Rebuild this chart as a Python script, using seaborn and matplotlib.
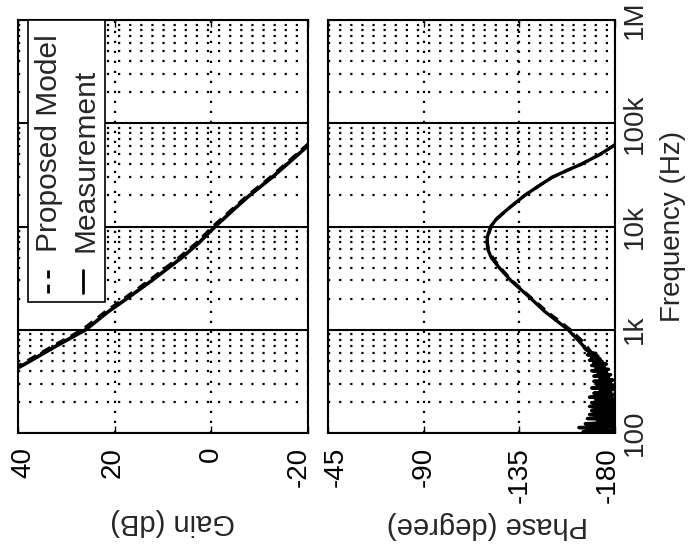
import matplotlib
matplotlib.use("Agg")
import matplotlib.pyplot as plt
from matplotlib.ticker import LogLocator, NullFormatter
from matplotlib.patches import Rectangle
from matplotlib.lines import Line2D
from matplotlib.transforms import ScaledTranslation
import seaborn as sns

# ---- Bode data (frequency in Hz) ----
gain_freq = [300, 400, 500, 700, 1000, 1500, 2000, 3000, 5000, 7000,
             10000, 15000, 20000, 30000, 50000, 70000, 100000]
gain_measured = [45.8, 41.1, 37.4, 32.0, 26.0, 21.3, 17.5, 12.3, 6.1, 2.5,
                 -0.8, -4.9, -7.9, -12.6, -18.0, -21.5, -25.0]
gain_model = [46.4, 41.8, 38.1, 32.7, 26.7, 21.9, 18.1, 12.9, 6.7, 3.0,
              -0.3, -4.5, -7.5, -12.2, -17.6, -21.1, -24.6]

phase_freq = [100, 103, 106, 109, 113, 116, 119, 123, 127, 130, 134, 138, 143,
              147, 151, 156, 160, 165, 170, 175, 181, 186, 192, 197, 203, 209,
              216, 222, 229, 236, 243, 250, 258, 265, 273, 281, 290, 299, 307,
              317, 326, 336, 346, 356, 367, 378, 389, 401, 413, 426, 438, 451,
              465, 479, 493, 508, 523, 539, 555, 572, 589, 607,
              650, 700, 800, 900, 1000, 1500, 2000, 3000, 4000, 5000, 6000,
              7000, 8000, 10000, 12000, 15000, 20000, 25000, 30000, 35000,
              40000, 50000, 60000, 70000, 100000]
phase_measured = [-178, -165, -180, -171, -163, -180, -176, -166, -180, -172,
                  -180, -167, -178, -180, -168, -175, -180, -169, -180, -173,
                  -168, -180, -176, -169, -180, -171, -179, -168, -177, -180,
                  -170, -178, -173, -180, -169, -176, -180, -171, -178, -170,
                  -179, -173, -177, -170, -178, -172, -176, -169, -177, -171,
                  -175, -169, -176, -170, -174, -168, -173, -169, -172, -167,
                  -171, -168,
                  -166, -165, -162.5, -160, -158, -147, -140.5, -131, -125.5,
                  -121.8, -120.2, -119.8, -120, -121.5, -124.5, -130, -137.5,
                  -144.5, -150.5, -157.5, -164, -173, -179, -183.5, -195]

model_freq = [100, 150, 200, 300, 400, 500, 600, 700, 800, 1000, 1500, 2000,
              3000, 4000, 5000, 6000, 7000, 8000, 10000, 12000, 15000, 20000,
              25000, 30000, 35000, 40000, 50000, 60000, 70000, 100000]
phase_model = [-179, -178.5, -178, -176.5, -174, -171.5, -169, -166.5, -164,
               -159, -148, -141, -131.5, -126, -122.5, -120.5, -120, -120.2,
               -121.8, -124.8, -130, -137.5, -144.5, -150.5, -157.5, -164,
               -173, -179, -183.5, -195]

gain_ticks = [40, 20, 0, -20]
gain_tick_labels = ["40", "20", "0", "-20"]
phase_ticks = [-45, -90, -135, -180]
phase_tick_labels = ["-45", "-90", "-135", "-180"]
freq_ticks = [1e2, 1e3, 1e4, 1e5, 1e6]
freq_tick_labels = ["100", "1k", "10k", "100k", "1M"]
legend_labels = ["Proposed Model", "Measurement"]

sns.set_style("white")
plt.rcParams["font.family"] = ["Liberation Sans", "DejaVu Sans"]
plt.rcParams["axes.unicode_minus"] = False

W, H = 690, 545
fig = plt.figure(figsize=(W / 100, H / 100), dpi=100)
ax_g = fig.add_axes([18 / W, 1 - 433 / H, 290 / W, 413 / H])
ax_p = fig.add_axes([328 / W, 1 - 433 / H, 287 / W, 413 / H])

MODEL_DASH = (0, (3.2, 2.2))

# Gain panel: frequency runs up the page, gain decreases to the right
sns.lineplot(x=gain_measured, y=gain_freq, orient="y", sort=False,
             estimator=None, color="black", lw=2.6, legend=False, ax=ax_g)
sns.lineplot(x=gain_model, y=gain_freq, orient="y", sort=False,
             estimator=None, color="black", lw=2.2, legend=False, ax=ax_g)
ax_g.lines[-1].set_linestyle(MODEL_DASH)

# Phase panel
sns.lineplot(x=phase_measured, y=phase_freq, orient="y", sort=False,
             estimator=None, color="black", lw=2.4, legend=False, ax=ax_p)
sns.lineplot(x=phase_model, y=model_freq, orient="y", sort=False,
             estimator=None, color="black", lw=2.2, legend=False, ax=ax_p)
ax_p.lines[-1].set_linestyle(MODEL_DASH)

ax_g.set_xlim(40, -20)
ax_p.set_xlim(-45, -180)

for ax in (ax_g, ax_p):
    ax.set_yscale("log")
    ax.set_ylim(1e2, 1e6)
    ax.yaxis.set_minor_locator(LogLocator(base=10, subs=[2, 3, 4, 5, 6, 7, 8, 9]))
    ax.yaxis.set_minor_formatter(NullFormatter())
    ax.set_yticks(freq_ticks)
    ax.grid(False)
    ax.grid(True, which="major", axis="y", color="black", linestyle="-", linewidth=1.5)
    ax.grid(True, which="minor", axis="y", color="black", linestyle=(0, (1, 4)), linewidth=1.6)
    ax.grid(True, which="major", axis="x", color="black", linestyle=(0, (1, 3.5)), linewidth=1.6)
    ax.set_axisbelow(True)
    ax.tick_params(axis="x", direction="in", top=True, bottom=True, length=5,
                   width=1, pad=10, labelsize=20, colors="black")
    ax.tick_params(axis="y", which="both", direction="in", left=True, right=True,
                   length=0, labelleft=False, labelright=False)
    for s in ax.spines.values():
        s.set_color("black")
        s.set_linewidth(1.5)
    ax.set_ylabel("")

ax_g.set_xticks(gain_ticks, gain_tick_labels, rotation=90)
ax_p.set_xticks(phase_ticks, phase_tick_labels, rotation=90)
ax_p.set_yticks(freq_ticks, freq_tick_labels, rotation=90, va="center")
ax_p.tick_params(axis="y", which="major", labelright=True, labelsize=20, pad=5)

# Pull the outermost value labels inward so the two panels' labels don't collide
for ax, shifts in ((ax_g, [5, -2, 0, -9]), (ax_p, [8, 0, 0, -7])):
    for lbl, dx in zip(ax.get_xticklabels(), shifts):
        lbl.set_transform(lbl.get_transform()
                          + ScaledTranslation(dx / 100, 0, fig.dpi_scale_trans))

ax_g.set_xlabel("Gain (dB)", rotation=180, fontsize=21)
ax_g.xaxis.set_label_coords(0.534, -0.215)
ax_g.xaxis.label.set_va("center")
ax_p.set_xlabel("Phase (degree)", rotation=180, fontsize=21)
ax_p.xaxis.set_label_coords(0.557, -0.223)
ax_p.xaxis.label.set_va("center")
ax_p.yaxis.set_label_position("right")
ax_p.set_ylabel("Frequency (Hz)", rotation=90, fontsize=20)
ax_p.yaxis.set_label_coords(1.202, 0.5)
ax_p.yaxis.label.set_va("center")
ax_p.yaxis.label.set_ha("center")

# Legend box, laid out sideways like the rest of the figure
tr = ax_g.transAxes
ax_g.add_patch(Rectangle((0.0345, 0.317), 0.2655, 0.683, transform=tr,
                         facecolor="white", edgecolor="black", lw=1.2,
                         zorder=4, clip_on=False))
ax_g.add_line(Line2D([0.1034, 0.1034], [0.339, 0.395], transform=tr,
                     color="black", lw=2.0, linestyle=MODEL_DASH, zorder=5))
ax_g.add_line(Line2D([0.224, 0.224], [0.339, 0.395], transform=tr,
                     color="black", lw=2.0, zorder=5))
ax_g.text(0.107, 0.438, legend_labels[0], transform=tr, rotation=90,
          ha="center", va="bottom", fontsize=21.5, zorder=6)
ax_g.text(0.234, 0.438, legend_labels[1], transform=tr, rotation=90,
          ha="center", va="bottom", fontsize=21.5, zorder=6)

fig.savefig("out.png", dpi=100)
